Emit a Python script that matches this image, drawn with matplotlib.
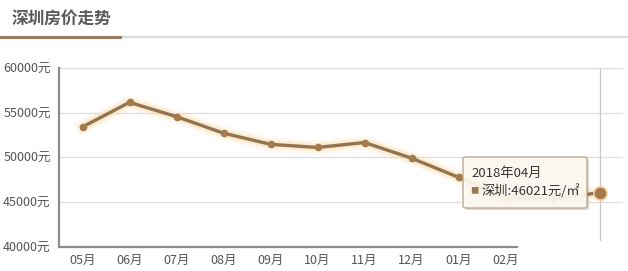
"""plot.py - Shenzhen house price trend (line chart with hover tooltip)."""

import matplotlib
matplotlib.use("Agg")

import matplotlib.pyplot as plt
import matplotlib.patheffects as pe
from matplotlib.patches import FancyBboxPatch, Rectangle
from matplotlib.lines import Line2D

plt.rcParams["font.family"] = ["Noto Sans CJK SC", "DejaVu Sans"]

# ---------------------------------------------------------------------------
# Data
# ---------------------------------------------------------------------------
months = ["05月", "06月", "07月", "08月", "09月", "10月",
          "11月", "12月", "01月", "02月", "03月", "04月"]
prices = [53400, 56150, 54550, 52700, 51450, 51100,
          51650, 49900, 47750, 45450, 45350, 46021]
y_ticks = [40000, 45000, 50000, 55000, 60000]
y_labels = [f"{v}元" for v in y_ticks]

title = "深圳房价走势"
tip_date = "2018年04月"
tip_text = "深圳:46021元/㎡"

LINE = "#94734f"
DOT = "#a67a4c"
GLOW = "#fbdcaa"
W, H = 628, 271

# ---------------------------------------------------------------------------
# Figure
# ---------------------------------------------------------------------------
fig = plt.figure(figsize=(W / 100, H / 100), dpi=100)
fig.patch.set_facecolor("white")

# header: title + underline
fig.text(11 / W, 1 - 19 / H, title, fontsize=12, fontweight="bold",
         color="#5a5a5a", va="center", ha="left")
fig.add_artist(Line2D([0, 1], [1 - 37 / H] * 2, color="#dcdcdc", lw=1.6,
                      transform=fig.transFigure))
fig.add_artist(Line2D([0, 120 / W], [1 - 37 / H] * 2, color="#9c7f62", lw=2.2,
                      transform=fig.transFigure))

ax = fig.add_axes([59 / W, 1 - 246.5 / H, (623 - 59) / W, (246.5 - 68) / H])
x = list(range(len(months)))

ax.plot(x, prices, color=LINE, lw=2.4, zorder=3,
        path_effects=[pe.Stroke(linewidth=10, foreground=GLOW, alpha=0.18),
                      pe.Stroke(linewidth=6, foreground=GLOW, alpha=0.4),
                      pe.Normal()])
ax.scatter(x[:-1], prices[:-1], s=30, color=DOT, zorder=4, linewidths=0)
ax.scatter(x[-1:], prices[-1:], s=90, color=DOT, zorder=4,
           edgecolors="#f3d2a6", linewidths=1.2)

ax.axvline(x[-1], color="#c8c8c8", lw=0.9, zorder=1)

ax.set_xlim(-0.5, len(months) - 0.5)
ax.set_ylim(40000, 60000)
ax.set_xticks(x)
ax.set_xticklabels(months)
ax.set_yticks(y_ticks)
ax.set_yticklabels(y_labels)
ax.tick_params(axis="both", length=0, labelsize=9, colors="#555555")
ax.tick_params(axis="x", pad=5)
ax.tick_params(axis="y", pad=6)
ax.grid(axis="y", color="#dddddd", lw=0.9)
ax.set_axisbelow(True)
for side in ("top", "right"):
    ax.spines[side].set_visible(False)
ax.spines["left"].set_color("#8c8c8c")
ax.spines["left"].set_linewidth(1.6)
ax.spines["bottom"].set_color("#8c8c8c")
ax.spines["bottom"].set_linewidth(1.6)

# tooltip box
box = FancyBboxPatch((463 / W, 1 - 208 / H), 124 / W, 51 / H,
                     boxstyle="round,pad=0,rounding_size=0.006",
                     transform=fig.transFigure, facecolor="#fffaf0",
                     edgecolor="#b9a48c", lw=1.0, alpha=0.92, zorder=10,
                     path_effects=[pe.SimplePatchShadow(offset=(1.5, -1.5),
                                                        alpha=0.2),
                                   pe.Normal()])
fig.add_artist(box)
fig.text(471 / W, 1 - 173 / H, tip_date, fontsize=9.5, color="#333333",
         va="center", ha="left", zorder=11)
fig.text(470 / W, 1 - 191 / H, "■", fontsize=6, color="#9b7650",
         va="center", ha="left", zorder=11)
fig.text(481 / W, 1 - 191 / H, tip_text, fontsize=9.5, color="#333333",
         va="center", ha="left", zorder=11)

# watermark blur in bottom-right corner
fig.add_artist(Rectangle((518 / W, 0), 110 / W, 30 / H, transform=fig.transFigure,
                         facecolor="white", edgecolor="none", zorder=12))

fig.savefig("out.png", dpi=100, facecolor="white")
